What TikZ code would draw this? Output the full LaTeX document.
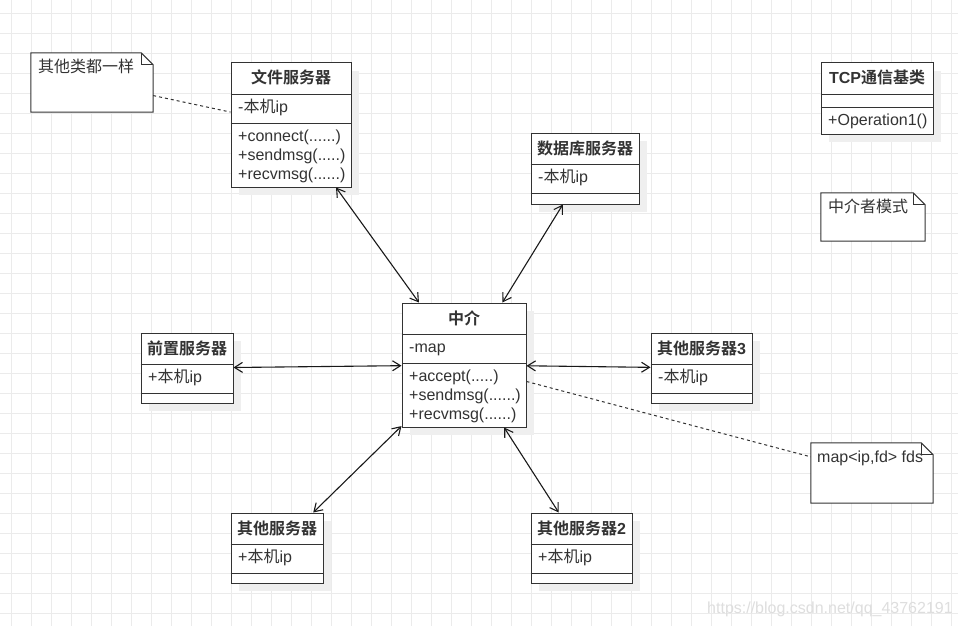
\documentclass[tikz,border=0pt]{standalone}
\usepackage{fontspec}
\setmainfont{Liberation Sans}
\newfontfamily\cjk{Noto Sans CJK SC}[BoldFont={Noto Sans CJK SC Bold}]
\newcommand\zh[1]{{\cjk #1}}
\usetikzlibrary{arrows.meta,shadows}
\definecolor{ink}{HTML}{333333}
\definecolor{gridc}{HTML}{EBEBEB}
\definecolor{shade}{HTML}{EFEFEF}

\begin{document}
\begin{tikzpicture}[x=1pt, y=-1pt,
  every node/.style={font=\fontsize{16}{19}\selectfont, text=ink, inner sep=0pt},
  cls/.style={draw=ink, fill=white, line width=1pt,
    drop shadow={shadow xshift=8pt, shadow yshift=-8pt, fill=shade, opacity=1}},
  notebox/.style={inner sep=0pt},
  notefold/.style={draw=ink, line width=1pt, line join=miter},
  hd/.style={anchor=base, font=\fontsize{16}{19}\selectfont\bfseries},
  row/.style={anchor=base west},
  sepline/.style={draw=ink, line width=1pt},
  gridline/.style={draw=gridc, line width=0.8pt},
  link/.style={{Straight Barb[length=8pt,width=10pt]}-{Straight Barb[length=8pt,width=10pt]},
    line width=1.1pt, draw=black!90},
  dashlink/.style={draw=ink, dash pattern=on 3pt off 3pt, line width=1pt}
]
\useasboundingbox[fill=white] (0,0) rectangle (958,626);
% grid
\foreach \gx in {11.5,31.5,...,951.5} \draw[gridline] (\gx,0) -- (\gx,626);
\foreach \gy in {13.5,33.5,...,613.5} \draw[gridline] (0,\gy) -- (958,\gy);

% 文件服务器
\node[cls, minimum width=120pt, minimum height=124pt] (wenjian) at (291,125) {};
\draw[sepline] (wenjian.west |- 0,94) -- (wenjian.east |- 0,94);
\draw[sepline] (wenjian.west |- 0,123) -- (wenjian.east |- 0,123);
\node[hd] (wenjianT) at (291,84) {\zh{文件服务器}};
\node[row] (wenjianA) at (238,112) {-\zh{本机}ip};
\node[row] (wenjianM1) at (238,141) {+connect(......)};
\node[row] (wenjianM2) at (238,160) {+sendmsg(.....)};
\node[row] (wenjianM3) at (238,179) {+recvmsg(......)};

% 数据库服务器
\node[cls, minimum width=108pt, minimum height=71pt] (shuju) at (585,168.5) {};
\draw[sepline] (shuju.west |- 0,164) -- (shuju.east |- 0,164);
\draw[sepline] (shuju.west |- 0,193) -- (shuju.east |- 0,193);
\node[hd] (shujuT) at (585,154) {\zh{数据库服务器}};
\node[row] (shujuA) at (538,182) {-\zh{本机}ip};

% TCP通信基类
\node[cls, minimum width=112pt, minimum height=71pt] (tcp) at (877,98.5) {};
\draw[sepline] (tcp.west |- 0,94) -- (tcp.east |- 0,94);
\draw[sepline] (tcp.west |- 0,107) -- (tcp.east |- 0,107);
\node[hd] (tcpT) at (877,84) {TCP\zh{通信基类}};
\node[row] (tcpM) at (828,125) {+Operation1()};

% 中介
\node[cls, minimum width=124pt, minimum height=124pt] (zhongjie) at (464,365) {};
\draw[sepline] (zhongjie.west |- 0,334) -- (zhongjie.east |- 0,334);
\draw[sepline] (zhongjie.west |- 0,363) -- (zhongjie.east |- 0,363);
\node[hd] (zhongjieT) at (464,324) {\zh{中介}};
\node[row] (zhongjieA) at (409,352) {-map};
\node[row] (zhongjieM1) at (409,381) {+accept(.....)};
\node[row] (zhongjieM2) at (409,400) {+sendmsg(......)};
\node[row] (zhongjieM3) at (409,419) {+recvmsg(......)};

% 前置服务器
\node[cls, minimum width=92pt, minimum height=70pt] (qianzhi) at (187,368) {};
\draw[sepline] (qianzhi.west |- 0,364) -- (qianzhi.east |- 0,364);
\draw[sepline] (qianzhi.west |- 0,393) -- (qianzhi.east |- 0,393);
\node[hd] (qianzhiT) at (187,354) {\zh{前置服务器}};
\node[row] (qianzhiA) at (148,382) {+\zh{本机}ip};

% 其他服务器3
\node[cls, minimum width=101pt, minimum height=70pt] (qita3) at (701.5,368) {};
\draw[sepline] (qita3.west |- 0,364) -- (qita3.east |- 0,364);
\draw[sepline] (qita3.west |- 0,393) -- (qita3.east |- 0,393);
\node[hd] (qita3T) at (701.5,354) {\zh{其他服务器}3};
\node[row] (qita3A) at (658,382) {-\zh{本机}ip};

% 其他服务器
\node[cls, minimum width=92pt, minimum height=70pt] (qita1) at (277,548) {};
\draw[sepline] (qita1.west |- 0,544) -- (qita1.east |- 0,544);
\draw[sepline] (qita1.west |- 0,573) -- (qita1.east |- 0,573);
\node[hd] (qita1T) at (277,534) {\zh{其他服务器}};
\node[row] (qita1A) at (238,562) {+\zh{本机}ip};

% 其他服务器2
\node[cls, minimum width=101pt, minimum height=70pt] (qita2) at (581.5,548) {};
\draw[sepline] (qita2.west |- 0,544) -- (qita2.east |- 0,544);
\draw[sepline] (qita2.west |- 0,573) -- (qita2.east |- 0,573);
\node[hd] (qita2T) at (581.5,534) {\zh{其他服务器}2};
\node[row] (qita2A) at (538,562) {+\zh{本机}ip};

% notes
\node[notebox, minimum width=122pt, minimum height=59pt] (samenote) at (92,82.5) {};
\node[notebox, minimum width=104pt, minimum height=48pt] (modenote) at (873,217) {};
\node[notebox, minimum width=122pt, minimum height=60pt] (mapnote) at (872,473) {};
\foreach \n in {samenote,modenote,mapnote} {
  \draw[notefold, fill=white] (\n.south west) -- (\n.north west) -- ([xshift=-12pt]\n.north east)
    -- ([yshift=-12pt]\n.north east) -- (\n.south east) -- cycle;
  \draw[notefold] ([xshift=-12pt]\n.north east) -- ([xshift=-12pt,yshift=-12pt]\n.north east)
    -- ([yshift=-12pt]\n.north east);
}
\node[row] (sameT) at (38,72) {\zh{其他类都一样}};
\node[row] (modeT) at (828,212) {\zh{中介者模式}};
\node[row] (mapT) at (817,462) {map<ip,fd> fds};

% connectors
\draw[link] (wenjian) -- (zhongjie);
\draw[link] (shuju) -- (zhongjie);
\draw[link] (qianzhi) -- (zhongjie);
\draw[link] (qita3) -- (zhongjie);
\draw[link] (qita1) -- (zhongjie);
\draw[link] (qita2) -- (zhongjie);
\draw[dashlink] (samenote) -- (wenjian);
\draw[dashlink] (zhongjie) -- (mapnote);

\node[row, text=black!13] (mark) at (707,613) {https://blog.csdn.net/qq\_43762191};
\end{tikzpicture}
\end{document}
